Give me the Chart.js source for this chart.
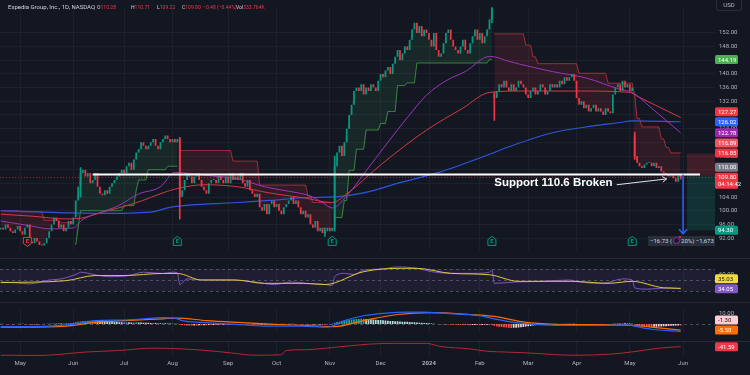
<!DOCTYPE html>
<html>
<head>
<meta charset="utf-8">
<title>EXPE 1D</title>
<script src="https://cdn.jsdelivr.net/npm/chart.js@4.4.1/dist/chart.umd.min.js"></script>
<style>
  html, body { margin: 0; padding: 0; background: #131722; }
  body { position: relative; width: 750px; height: 375px; overflow: hidden; font-family: Roboto, 'Liberation Sans', sans-serif; }
  canvas { position: absolute; left: 0; }
  .sep { position: absolute; left: 0; width: 750px; height: 1px; background: #262a36; }
  .hdr { position: absolute; top: 3px; font-size: 6px; line-height: 8px; color: #d1d4dc; white-space: nowrap; }
  .hdr.v { transform: scaleX(0.84); transform-origin: left center; }
  .hdr b { font-weight: normal; color: #f23645; }
  #usd { position: absolute; left: 716px; top: 0; width: 26px; height: 11px; border: 1px solid #2a2e39; border-top: none; border-radius: 0 0 3px 3px; box-sizing: border-box; font-size: 6px; line-height: 10px; color: #b2b5be; text-align: center; }
  #note { position: absolute; font: bold 11.5px 'Liberation Sans', sans-serif; color: #ffffff; white-space: nowrap; transform: translateY(-50%); }
  #posLabel { position: absolute; transform: translateY(-50%); height: 10px; background: #2a2e39; color: #d1d4dc; font-size: 6px; line-height: 10px; white-space: nowrap; padding-left: 2px; box-sizing: border-box; }
  #posLabel i { display: inline-block; width: 7px; height: 7px; margin: 0 1px; border: 1px solid #9c27b0; border-radius: 50%; box-sizing: border-box; vertical-align: -1px; position: relative; background: #1e1530; }
  #posLabel i::after { content: ''; position: absolute; right: -2px; top: -2px; width: 2px; height: 2px; border-radius: 50%; background: #f23645; }
</style>
</head>
<body>
<canvas id="price" width="750" height="258" style="top:0"></canvas>
<canvas id="rsi" width="750" height="44" style="top:258px"></canvas>
<canvas id="macd" width="750" height="39" style="top:302px"></canvas>
<canvas id="osc" width="750" height="34" style="top:341px"></canvas>
<div class="sep" style="top:258px"></div>
<div class="sep" style="top:302px"></div>
<div class="sep" style="top:341px"></div>

<div class="hdr" style="left:8px">Expedia Group, Inc., 1D, NASDAQ</div>
<div class="hdr v" style="left:97px">O<b>110.28</b></div>
<div class="hdr v" style="left:131px">H<b>110.71</b></div>
<div class="hdr v" style="left:157px">L<b>109.22</b></div>
<div class="hdr v" style="left:182px">C<b>109.80</b></div>
<div class="hdr v" style="left:203px"><b>−0.48 (−0.44%)</b></div>
<div class="hdr v" style="left:236px">Vol<b>333.764K</b></div>
<div id="usd">USD</div>
<div id="note">Support 110.6 Broken</div>
<div id="posLabel">−16.73 (<i></i>20%) −1,673</div>

<script>
// month ticks on the time axis (bar index of first session of each month)
const monthLabels = ['May', 'Jun', 'Jul', 'Aug', 'Sep', 'Oct', 'Nov', 'Dec', '2024', 'Feb', 'Mar', 'Apr', 'May', 'Jun'];
const monthStarts = [8, 30, 51, 71, 94, 114, 136, 157, 177, 198, 218, 238, 260, 282];
const priceTicks = [92, 96, 100, 104, 108, 112, 116, 120, 124, 128, 132, 136, 140, 144, 148, 152];

// daily closes, Apr 19 2023 .. May 31 2024
const firstOpen = 94.5;
const closes = [
  95, 94.5, 96, 95, 94, 93.5, 94.5, 95.5,
  94, 93, 95, 96, 91, 90.5, 92, 91, 90, 89.8, 90.5, 92, 94, 96, 98, 97, 95, 96, 94, 95, 97, 96,
  98, 103, 107, 111, 112, 110, 111, 108, 109, 111, 107, 105, 104.5, 106, 105, 107, 108, 109, 110, 111, 112,
  111, 113, 114, 112, 115, 117, 118, 120, 119, 118, 119, 120, 121, 119, 118, 120, 121, 122, 121, 120,
  121, 120, 121, 104, 106, 109, 111, 110, 108, 110, 111, 109, 107, 106, 105, 108, 109, 109, 108, 110, 109, 108, 110,
  108, 111, 109, 110, 109, 111, 108, 107, 109, 106, 105, 104, 105, 101, 100, 102, 99, 102, 103, 101,
  102, 100, 99, 101, 102, 103, 104, 102, 103, 101, 99, 100, 98, 99, 96, 95, 97, 94, 95, 93.5, 94, 95,
  94, 95, 113, 117, 119, 116, 120, 124, 128, 131, 135, 136, 135, 137, 134, 136, 135, 137, 136, 135, 138,
  140, 139, 141, 142, 140, 143, 145, 147, 144, 146, 148, 147, 150, 153, 155, 152, 154, 151, 153, 152,
  150, 148, 152, 147, 145, 146, 149, 152, 153, 150, 148, 147, 146, 148, 150, 147, 146, 149, 151, 153, 150,
  152, 149, 151, 153, 156, 160, 133, 135, 137, 136, 138, 136, 135, 137, 135, 136, 138, 137, 136, 134,
  133, 135, 136, 134, 135, 137, 136, 134, 135, 137, 136, 137, 136, 138, 137, 139, 138, 139, 140, 138,
  133, 131, 132, 130, 131, 129, 130, 131, 129, 130, 129, 128, 130, 129, 128.5, 134, 136, 137, 135, 138, 136, 137,
  135, 136, 116, 114, 113, 112.5, 113.5, 114, 114, 113, 114, 112.5, 113, 111.5, 111, 110.5, 110, 110.3, 109.5, 108.5, 110.3, 109.8
];
// sessions that opened on a gap: [bar, open]
const gapOpens = [[204, 134], [262, 122]];
// visible wicks: [bar, low, high]
const wicks = [[33, 104, 112.6], [74, 97.5, 121.5], [134, 92.5, 95], [138, 94, 116], [203, 155, 163], [204, 126.4, 134.6], [262, 115, 123], [281, 109.22, 110.71]];

// moving averages read at points: [bar, value]
const ma200Pts = [[0, 100], [27, 99.4], [41, 99.2], [62, 99.6], [70, 101], [98, 102.4], [111, 103], [125, 103.8], [139, 104.1], [150, 105.2], [165, 108.2], [181, 111.2], [202, 116.5], [210, 118.7], [228, 122.8], [245, 124.8], [256, 125.8], [261, 126.3], [281, 126.02]];
const ma100Pts = [[0, 99], [13, 98.4], [27, 97.6], [33, 97.8], [41, 99.4], [55, 102.1], [69, 105.7], [73, 106.5], [84, 107.6], [98, 107], [111, 105.2], [125, 103.8], [137, 102.4], [143, 104.9], [157, 113.4], [176, 123.6], [191, 130], [202, 134.6], [215, 135], [240, 135], [260, 134.6], [263, 133.5], [281, 127.27]];
const ma50Pts = [[0, 97], [13, 95.5], [20, 94.7], [30, 95], [34, 97.5], [41, 99.4], [49, 101.6], [57, 104.9], [66, 107], [72, 111.2], [84, 110.4], [98, 109.3], [109, 107], [119, 105.7], [128, 104.3], [133, 102.4], [137, 100.8], [143, 104.3], [150, 110.7], [160, 120], [168, 127.2], [176, 133.8], [184, 138], [192, 140.7], [202, 145.1], [204, 145], [210, 143.7], [228, 140.7], [242, 138.8], [256, 135.5], [261, 134.6], [269, 130], [281, 122.78]];

// trailing stop band: [firstBar, lastBar, level]
const stRedSegs = [[0, 7, 100], [8, 17, 99.7], [18, 24, 97.2], [25, 30, 96.5], [74, 95, 117.6], [96, 106, 114.5], [107, 126, 107.5], [127, 128, 104.3], [129, 137, 102.4], [204, 216, 151.7], [217, 219, 148.4], [220, 221, 145], [222, 238, 143], [239, 250, 140.2], [251, 261, 137.3], [262, 262, 133.8], [263, 264, 127], [265, 272, 124.5], [273, 274, 121], [275, 276, 118.5], [277, 281, 116.9]];
const stGreenSegs = [[31, 31, 90], [32, 32, 95], [33, 50, 100], [51, 55, 101.5], [56, 56, 106], [57, 60, 109], [61, 68, 112], [69, 73, 113], [138, 141, 98], [142, 143, 103], [144, 146, 111.8], [147, 150, 118], [151, 156, 123.6], [157, 159, 125.5], [160, 163, 129], [164, 167, 136.6], [168, 171, 137.4], [172, 201, 143.2], [202, 203, 144.3]];

// RSI pane
const rsiPts = [[0, 46.5], [6, 45], [12, 43], [20, 50], [25, 52], [32, 61.8], [33, 64], [39, 59.4], [45, 55.9], [53, 58], [59, 64], [67, 61.8], [71, 64], [73, 63], [74, 41.8], [77, 52], [83, 50], [95, 50], [105, 46.5], [113, 41.8], [120, 46.5], [126, 44], [134, 42], [137, 40], [138, 56], [142, 62], [146, 60], [150, 67.6], [158, 70], [164, 73.5], [172, 71], [178, 65], [186, 62], [196, 62], [202, 64], [203, 68], [204, 44], [213, 46.5], [223, 47.6], [235, 50], [239, 46.5], [249, 44], [257, 52], [261, 50], [262, 35.9], [267, 33.5], [277, 35.9], [281, 34.05]];
const rsiMaPts = [[0, 45.3], [27, 48.8], [39, 58], [51, 58], [67, 61.8], [73, 61.8], [83, 50], [97, 50], [109, 44], [125, 44], [134, 41.8], [150, 65], [166, 71], [172, 71], [186, 62], [202, 59.4], [214, 47.6], [236, 47.6], [251, 44], [261, 47.6], [274, 35.9], [281, 35.03]];
const rsiBands = [70, 50, 30];
const rsiTicks = [60];

// MACD pane
const macdPts = [[0, -2.4], [20, -1.8], [32, 0.4], [39, 3.2], [51, 3.7], [59, 4.8], [67, 5.9], [72, 5.4], [75, 3.2], [83, 1.5], [97, -0.2], [109, -1.8], [125, -1.8], [135, -2.9], [142, 3.2], [150, 7.6], [158, 9.8], [168, 10.9], [174, 10.9], [184, 9.8], [198, 7.6], [204, 4.8], [212, 1.5], [224, -0.7], [237, -1.3], [249, -1.3], [259, -0.7], [263, -2.4], [269, -4.7], [281, -6.8]];
const signalPts = [[0, -2.9], [27, -1.8], [39, 1.5], [51, 3.2], [67, 4.8], [73, 5.4], [85, 3.2], [98, 1.5], [113, -0.2], [126, -1.3], [138, -2.4], [150, 3.2], [164, 8.7], [178, 10.4], [194, 8.7], [204, 7], [217, 1.5], [229, -0.2], [249, -0.7], [261, -1.3], [272, -3.5], [281, -5.5]];
const macdHist = [
  0.2, 0.3, 0.1, -0.1, -0.2, -0.1, 0.1, 0.2,
  0.3, 0.2, 0.1, -0.2, -0.3, -0.4, -0.3, -0.2, -0.1, 0.1, 0.2, 0.3, 0.4, 0.5, 0.6, 0.7, 0.6, 0.5, 0.6, 0.7, 0.8, 0.9,
  1.2, 1.6, 2.0, 2.4, 2.7, 2.9, 3.0, 3.1, 3.2, 3.2, 3.1, 3.0, 2.8, 2.6, 2.4, 2.2, 2.0, 1.9, 1.8, 1.7, 1.6,
  1.6, 1.7, 1.6, 1.5, 1.5, 1.6, 1.5, 1.4, 1.3, 1.2, 1.1, 1.0, 1.0, 0.9, 0.9, 0.8, 0.8, 0.7, 0.6, 0.5,
  0.4, 0.3, 0.2, -0.6, -0.9, -1.1, -1.2, -1.3, -1.3, -1.2, -1.2, -1.1, -1.1, -1.0, -1.0, -0.9, -0.9, -0.8, -0.8, -0.7, -0.7, -0.6, -0.6,
  -0.5, -0.4, -0.4, -0.3, -0.3, -0.2, -0.2, -0.3, -0.4, -0.5, -0.6, -0.6, -0.7, -0.7, -0.6, -0.5, -0.4, -0.3, -0.3, -0.2,
  -0.1, 0.1, 0.2, 0.2, 0.1, 0.2, 0.3, 0.2, 0.1, -0.1, -0.2, -0.3, -0.4, -0.5, -0.6, -0.6, -0.5, -0.5, -0.4, -0.3, -0.3, -0.2,
  -0.1, 0.2, 1.2, 1.8, 2.2, 2.6, 3.0, 3.4, 3.8, 4.1, 4.4, 4.6, 4.7, 4.8, 4.8, 4.7, 4.6, 4.4, 4.2, 4.0, 3.8,
  3.6, 3.4, 3.2, 3.1, 2.9, 2.8, 2.6, 2.5, 2.3, 2.2, 2.1, 2.0, 1.8, 1.7, 1.6, 1.4, 1.3, 1.2, 1.0, 0.9,
  0.7, 0.5, 0.3, 0.1, -0.1, -0.2, -0.3, -0.4, -0.4, -0.5, -0.6, -0.6, -0.7, -0.8, -0.8, -0.9, -0.9, -1.0, -0.9, -0.8, -0.9,
  -0.9, -0.8, -0.7, -0.6, -0.6, -0.5, -1.5, -2.0, -2.4, -2.7, -3.0, -3.2, -3.4, -3.5, -3.4, -3.3, -3.1, -2.9, -2.6, -2.3,
  -2.0, -1.7, -1.4, -1.1, -0.9, -0.7, -0.5, -0.3, -0.2, -0.1, 0.1, 0.2, 0.2, 0.1, 0.2, 0.3, 0.3, 0.2, 0.3, 0.2,
  -0.1, -0.3, -0.4, -0.5, -0.5, -0.6, -0.6, -0.5, -0.5, -0.4, -0.4, -0.3, -0.2, -0.1, 0.1, 0.3, 0.5, 0.7, 0.8, 0.8, 0.7, 0.6,
  0.5, 0.4, -0.6, -1.2, -1.7, -2.1, -2.4, -2.5, -2.6, -2.6, -2.5, -2.4, -2.3, -2.2, -2.0, -1.9, -1.8, -1.6, -1.5, -1.4, -1.3, -1.3
];
const macdTicks = [10];

// bottom oscillator pane
const oscPts = [[0, -74], [16, -75], [35, -62], [49, -56], [63, -47], [75, -50], [85, -56], [95, -65], [105, -74], [116, -72], [118, -56], [126, -53], [138, -44], [152, -32], [162, -29], [176, -29], [182, -41], [194, -50], [201, -59], [209, -62], [217, -65], [237, -74], [252, -70], [263, -59], [272, -47], [281, -41.59]];

// drawings
const lastPrice = 109.8;
const support = { value: 110.6, from: 38, to: 289 };
const position = { from: 283.6, to: 295.2, entry: 110.4, stop: 116.7, target: 94.3, arrowAt: 282, arrowEnd: 93.3 };
const note = { idx: 204, value: 108.3, arrowFrom: [254.6, 107.6], arrowTo: [275.2, 109.3] };
const posLabel = { idx: 267.5, value: 91.1 };
const earnings = [[11, '#f23645'], [73, '#089981'], [137, '#089981'], [203, '#089981'], [261, '#089981']];

const priceTags = [
  { value: 144.19, bg: '#4caf50', fg: '#fff' },
  { value: 127.27, bg: '#f23645', fg: '#fff' },
  { value: 126.02, bg: '#2962ff', fg: '#fff' },
  { value: 122.78, bg: '#9c27b0', fg: '#fff' },
  { value: 116.89, bg: '#f7525f', fg: '#fff' },
  { value: 116.85, bg: '#f23645', fg: '#fff' },
  { value: 110.00, bg: '#787b86', fg: '#fff' },
  { value: 109.80, bg: '#f23645', fg: '#fff', sub: '04:14:42' },
  { value: 94.30, bg: '#089981', fg: '#fff' }
];
const rsiTags = [{ value: 35.03, bg: '#f5d742', fg: '#131722' }, { value: 34.05, bg: '#7e57c2', fg: '#fff' }];
const macdTags = [{ value: -1.30, bg: '#ffcdd2', fg: '#131722' }, { value: -5.50, bg: '#ff6d00', fg: '#fff' }];
const oscTags = [{ value: -41.59, bg: '#f23645', fg: '#fff' }];

// ---------- helpers ----------
const fontFam = "Roboto, 'Liberation Sans', sans-serif";
const upColor = '#089981', downColor = '#f23645';
const gridColor = '#1d212c', textColor = '#b2b5be';
const opens = closes.map((c, i) => i === 0 ? firstOpen : closes[i - 1]);
gapOpens.forEach(([i, o]) => { opens[i] = o; });
const pts = arr => arr.map(([x, y]) => ({ x, y }));
function expandSegments(segs) {
  const out = closes.map((_, i) => ({ x: i, y: null }));
  segs.forEach(([a, b, v]) => { for (let i = a; i <= b; i++) out[i].y = v; });
  return out;
}

function timeAxis(showLabels) {
  return {
    type: 'linear', min: -0.3, max: 295.2, offset: false,
    afterBuildTicks: ax => { ax.ticks = monthStarts.map(v => ({ value: v })); },
    ticks: {
      display: showLabels, autoSkip: false, maxRotation: 0, padding: 3, color: textColor,
      font: c => ({ family: fontFam, size: 6, weight: monthLabels[c.index] === '2024' ? 'bold' : 'normal' }),
      callback: (v, i) => monthLabels[i]
    },
    grid: { color: gridColor, drawTicks: false, offset: false },
    border: { display: false }
  };
}
function valueAxis(min, max, ticks, showGrid) {
  return {
    type: 'linear', position: 'right', min, max,
    afterBuildTicks: ax => { ax.ticks = ticks.map(v => ({ value: v })); },
    afterFit: ax => { ax.width = 35; },
    ticks: { color: textColor, font: { family: fontFam, size: 6 }, padding: 4, callback: v => v.toFixed(2) },
    grid: { display: showGrid, color: gridColor, drawTicks: false },
    border: { display: false }
  };
}
function baseOptions(scales, bottomPad) {
  return {
    responsive: false, animation: false, events: [],
    layout: { padding: { left: 0, right: 0, top: 0, bottom: bottomPad || 0 } },
    plugins: { legend: { display: false }, tooltip: { enabled: false } },
    scales
  };
}
function line(data, color, width, order) {
  return { type: 'line', data, borderColor: color, borderWidth: width, pointRadius: 0, tension: 0.35, cubicInterpolationMode: 'monotone', fill: false, order };
}

function drawTags(chart, tags) {
  const { ctx, chartArea: a } = chart;
  const sc = chart.scales.y;
  const h = 9;
  const items = tags.map(t => ({ ...t, cy: sc.getPixelForValue(t.value), h: t.sub ? 16 : h }));
  items.sort((p, q) => q.cy - p.cy);
  let limit = Infinity;
  items.forEach(it => {
    let top = it.cy - h / 2;
    if (top + it.h > limit - 1) top = limit - 1 - it.h;
    it.top = top; limit = top;
  });
  ctx.save();
  ctx.font = '6px ' + fontFam;
  ctx.textBaseline = 'middle';
  items.forEach(it => {
    ctx.fillStyle = it.bg;
    ctx.beginPath();
    ctx.roundRect(a.right, it.top, 23, it.h, 1.5);
    ctx.fill();
    ctx.fillStyle = it.fg;
    ctx.fillText(it.value.toFixed(2), a.right + 3, it.top + h / 2 + 0.5);
    if (it.sub) ctx.fillText(it.sub, a.right + 3, it.top + h / 2 + 7.5);
  });
  ctx.restore();
}

function arrow(ctx, x1, y1, x2, y2, color, w, head, spread) {
  ctx.save();
  ctx.strokeStyle = color; ctx.lineWidth = w;
  ctx.beginPath(); ctx.moveTo(x1, y1); ctx.lineTo(x2, y2); ctx.stroke();
  const ang = Math.atan2(y2 - y1, x2 - x1);
  ctx.beginPath();
  ctx.moveTo(x2 - head * Math.cos(ang - spread), y2 - head * Math.sin(ang - spread));
  ctx.lineTo(x2, y2);
  ctx.lineTo(x2 - head * Math.cos(ang + spread), y2 - head * Math.sin(ang + spread));
  ctx.stroke();
  ctx.restore();
}

function drawEarnings(ctx, x, y, color) {
  ctx.save();
  ctx.strokeStyle = color; ctx.fillStyle = '#131722'; ctx.lineWidth = 1;
  ctx.beginPath();
  if (color === downColor) {
    ctx.moveTo(x - 4, y - 4); ctx.lineTo(x + 4, y - 4); ctx.lineTo(x + 4, y + 2); ctx.lineTo(x, y + 5); ctx.lineTo(x - 4, y + 2);
  } else {
    ctx.moveTo(x, y - 5); ctx.lineTo(x + 4, y - 2); ctx.lineTo(x + 4, y + 4); ctx.lineTo(x - 4, y + 4); ctx.lineTo(x - 4, y - 2);
  }
  ctx.closePath(); ctx.fill(); ctx.stroke();
  ctx.fillStyle = color; ctx.font = 'bold 6px ' + fontFam;
  ctx.textAlign = 'center'; ctx.textBaseline = 'middle';
  ctx.fillText('E', x, y + 0.5);
  ctx.restore();
}

// ---------- price pane ----------
const priceOverlay = {
  id: 'priceOverlay',
  beforeDatasetsDraw(chart) {
    const { ctx, chartArea: a, scales: { y } } = chart;
    const yy = Math.round(y.getPixelForValue(lastPrice)) + 0.5;
    ctx.save();
    ctx.strokeStyle = 'rgba(242,54,69,0.55)'; ctx.lineWidth = 1; ctx.setLineDash([1, 2]);
    ctx.beginPath(); ctx.moveTo(a.left, yy); ctx.lineTo(a.right, yy); ctx.stroke();
    ctx.restore();
  },
  afterDatasetsDraw(chart) {
    const { ctx, chartArea: a, scales: { x, y } } = chart;
    // long/short position boxes
    const x1 = x.getPixelForValue(position.from), x2 = x.getPixelForValue(position.to);
    const yStop = y.getPixelForValue(position.stop), yEntry = y.getPixelForValue(position.entry), yTarget = y.getPixelForValue(position.target);
    ctx.save();
    ctx.fillStyle = 'rgba(242,54,69,0.2)'; ctx.fillRect(x1, yStop, x2 - x1, yEntry - yStop);
    ctx.fillStyle = 'rgba(8,153,129,0.2)'; ctx.fillRect(x1, yEntry, x2 - x1, yTarget - yEntry);
    // support line
    const ys = y.getPixelForValue(support.value);
    ctx.strokeStyle = '#ffffff'; ctx.lineWidth = 2;
    ctx.beginPath(); ctx.moveTo(x.getPixelForValue(support.from), ys); ctx.lineTo(x.getPixelForValue(support.to), ys); ctx.stroke();
    ctx.restore();
    // projection arrow
    const xa = x.getPixelForValue(position.arrowAt);
    arrow(ctx, xa, ys, xa, y.getPixelForValue(position.arrowEnd), '#2962ff', 1.5, 6, 0.75);
    // annotation arrow
    arrow(ctx, x.getPixelForValue(note.arrowFrom[0]), y.getPixelForValue(note.arrowFrom[1]),
      x.getPixelForValue(note.arrowTo[0]), y.getPixelForValue(note.arrowTo[1]), '#e0e3eb', 1, 5, 0.6);
    // earnings markers
    earnings.forEach(([i, c]) => drawEarnings(ctx, x.getPixelForValue(i), a.bottom - 9, c));
  },
  afterDraw(chart) { drawTags(chart, priceTags); }
};

const priceChart = new Chart(document.getElementById('price'), {
  type: 'bar',
  data: {
    datasets: [
      { type: 'line', data: closes.map((c, i) => ({ x: i, y: c })), borderWidth: 0, borderColor: 'transparent', pointRadius: 0, fill: false, order: 9 },
      { type: 'line', data: expandSegments(stRedSegs), borderColor: 'rgba(214,56,70,0.7)', borderWidth: 1, pointRadius: 0, spanGaps: false,
        fill: { target: 0, above: 'rgba(242,54,69,0.13)', below: 'rgba(242,54,69,0.13)' }, order: 8 },
      { type: 'line', data: expandSegments(stGreenSegs), borderColor: 'rgba(76,175,80,0.7)', borderWidth: 1, pointRadius: 0, spanGaps: false,
        fill: { target: 0, above: 'rgba(76,175,80,0.11)', below: 'rgba(76,175,80,0.11)' }, order: 7 },
      line(pts(ma200Pts), '#2d55e0', 1.2, 6),
      line(pts(ma100Pts), '#d43a45', 1, 5),
      line(pts(ma50Pts), '#9b36b8', 1, 4),
      { type: 'bar', data: wicks.map(([i, l, h]) => ({ x: i, y: [l, h] })), grouped: false, barThickness: 1, order: 2,
        backgroundColor: c => closes[wicks[c.dataIndex][0]] >= opens[wicks[c.dataIndex][0]] ? upColor : downColor },
      { type: 'bar', data: closes.map((c, i) => ({ x: i, y: [opens[i], c] })), grouped: false, categoryPercentage: 1, barPercentage: 0.72, minBarLength: 1, order: 1,
        backgroundColor: c => closes[c.dataIndex] >= opens[c.dataIndex] ? upColor : downColor }
    ]
  },
  options: baseOptions({ x: timeAxis(false), y: valueAxis(88.4, 159.4, priceTicks, true) }),
  plugins: [priceOverlay]
});

// ---------- RSI pane ----------
const rsiOverlay = {
  id: 'rsiOverlay',
  beforeDatasetsDraw(chart) {
    const { ctx, chartArea: a, scales: { y } } = chart;
    const top = y.getPixelForValue(rsiBands[0]), bot = y.getPixelForValue(rsiBands[2]);
    ctx.save();
    ctx.fillStyle = 'rgba(126,87,194,0.1)'; ctx.fillRect(a.left, top, a.width, bot - top);
    ctx.strokeStyle = 'rgba(120,123,134,0.55)'; ctx.lineWidth = 1; ctx.setLineDash([3, 3]);
    rsiBands.forEach(v => { const yy = Math.round(y.getPixelForValue(v)) + 0.5; ctx.beginPath(); ctx.moveTo(a.left, yy); ctx.lineTo(a.right, yy); ctx.stroke(); });
    ctx.restore();
  },
  afterDraw(chart) { drawTags(chart, rsiTags); }
};
new Chart(document.getElementById('rsi'), {
  type: 'line',
  data: { datasets: [line(pts(rsiMaPts), '#e3c93c', 1, 1), line(pts(rsiPts), '#7e57c2', 1, 2)] },
  options: baseOptions({ x: timeAxis(false), y: valueAxis(24.1, 75.9, rsiTicks, false) }),
  plugins: [rsiOverlay]
});

// ---------- MACD pane ----------
const macdOverlay = {
  id: 'macdOverlay',
  beforeDatasetsDraw(chart) {
    const { ctx, chartArea: a, scales: { y } } = chart;
    const yy = Math.round(y.getPixelForValue(0)) + 0.5;
    ctx.save();
    ctx.strokeStyle = 'rgba(120,123,134,0.55)'; ctx.lineWidth = 1; ctx.setLineDash([3, 3]);
    ctx.beginPath(); ctx.moveTo(a.left, yy); ctx.lineTo(a.right, yy); ctx.stroke();
    ctx.restore();
  },
  afterDraw(chart) { drawTags(chart, macdTags); }
};
new Chart(document.getElementById('macd'), {
  type: 'bar',
  data: {
    datasets: [
      line(pts(macdPts), '#2962ff', 1.2, 1),
      line(pts(signalPts), '#ff6d00', 1.2, 2),
      { type: 'bar', data: macdHist.map((v, i) => ({ x: i, y: v })), grouped: false, categoryPercentage: 1, barPercentage: 0.7, order: 3,
        backgroundColor: c => {
          const i = c.dataIndex, v = macdHist[i], p = i ? macdHist[i - 1] : v;
          return v >= 0 ? (v >= p ? '#26a69a' : '#b2dfdb') : (v <= p ? '#ff5252' : '#ffcdd2');
        } }
    ]
  },
  options: baseOptions({ x: timeAxis(false), y: valueAxis(-8.5, 13.17, macdTicks, false) }),
  plugins: [macdOverlay]
});

// ---------- bottom oscillator + time axis ----------
new Chart(document.getElementById('osc'), {
  type: 'line',
  data: { datasets: [line(pts(oscPts), '#b22833', 1, 1)] },
  options: baseOptions({ x: timeAxis(true), y: valueAxis(-80, -20, [], false) }, 5),
  plugins: [{ id: 'oscTags', afterDraw(chart) { drawTags(chart, oscTags); } }]
});

// ---------- place html labels on the price scales ----------
const sx = priceChart.scales.x, sy = priceChart.scales.y;
const noteEl = document.getElementById('note');
noteEl.style.left = sx.getPixelForValue(note.idx) + 'px';
noteEl.style.top = sy.getPixelForValue(note.value) + 'px';
const posEl = document.getElementById('posLabel');
const pl = sx.getPixelForValue(posLabel.idx);
posEl.style.left = pl + 'px';
posEl.style.width = (priceChart.chartArea.right - pl) + 'px';
posEl.style.top = sy.getPixelForValue(posLabel.value) + 'px';
</script>
</body>
</html>
